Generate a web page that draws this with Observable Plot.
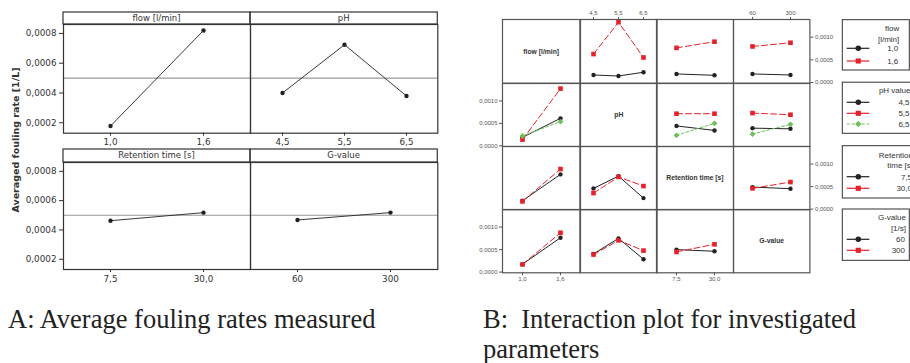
<!DOCTYPE html>
<html><head><meta charset="utf-8">
<script src="https://cdn.jsdelivr.net/npm/d3@7"></script>
<script src="https://cdn.jsdelivr.net/npm/@observablehq/plot@0.6"></script>
<style>
body{margin:0;background:#fff;}
#root{position:relative;width:910px;height:363px;overflow:hidden;background:#fff;}
#root > svg{position:absolute;}
</style></head><body><div id="root"></div>
<script>
// ---------- data ----------
const flowLevels = ["1,0", "1,6"];
const phLevels = ["4,5", "5,5", "6,5"];
const retLevels = ["7,5", "30,0"];
const gLevels = ["60", "300"];
const factorNames = ["flow [l/min]", "pH", "Retention time [s]", "G-value"];
const panelATitles = ["flow [l/min]", "pH", "Retention time [s]", "G-value"];
const legendTitles = [["flow", "[l/min]"], ["pH value"], ["Retention", "time [s]"], ["G-value", "[1/s]"]];

// A: main effects (averaged fouling rate, 1/L)
const mainFlow = [0.000178, 0.00082];
const mainPH = [0.0004, 0.000724, 0.00038];
const mainRet = [0.000463, 0.000518];
const mainG = [0.000468, 0.000518];
const grandMean = 0.0005;
const yTicksA = [0.0002, 0.0004, 0.0006, 0.0008];

// B: interaction means  (rows = levels of grouping factor, columns = levels of x factor)
const flowXpH  = [[0.000166, 0.000143, 0.000227], [0.000627, 0.00133, 0.000552]];
const flowXret = [[0.000189, 0.000159], [0.000764, 0.0009]];
const flowXg   = [[0.000189, 0.000166], [0.000795, 0.000877]];
const phXflow  = [[0.00019, 0.000613], [0.000138, 0.001276], [0.000219, 0.00054]];
const phXret   = [[0.000444, 0.000343], [0.000716, 0.000716], [0.000234, 0.000503]];
const phXg     = [[0.000394, 0.000379], [0.00073, 0.000693], [0.000263, 0.00048]];
const retXflow = [[0.000187, 0.000771], [0.000171, 0.000889]];
const retXpH   = [[0.00046, 0.000733, 0.000244], [0.000356, 0.000715, 0.000511]];
const retXg    = [[0.000489, 0.000453], [0.00046, 0.0006]];
const gXflow   = [[0.000176, 0.000764], [0.00017, 0.000874]];
const gXpH     = [[0.000405, 0.000749, 0.000286], [0.00039, 0.000705, 0.000478]];
const gXret    = [[0.0005, 0.000463], [0.000449, 0.000617]];
const yTicksB = [0, 0.0005, 0.001];

// ---------- setup ----------
const root = document.getElementById("root");
const FA = "'DejaVu Sans', Verdana, sans-serif";
const FB = "'Liberation Sans', Arial, sans-serif";
const fmt = d => d3.format(".4f")(d).replace(".", ",");
const factorLevels = [flowLevels, phLevels, retLevels, gLevels];
const inter = [
  [null, flowXpH, flowXret, flowXg],
  [phXflow, null, phXret, phXg],
  [retXflow, retXpH, null, retXg],
  [gXflow, gXpH, gXret, null]
];
const styles = [
  {color: "#222222", symbol: "circle", dash: null, r: 2.2, d3sym: d3.symbolCircle},
  {color: "#e8202a", symbol: "square", dash: "6,3", r: 2.6, d3sym: d3.symbolSquare},
  {color: "#6cc05a", symbol: "diamond2", dash: "3,2", r: 2.6, d3sym: d3.symbolDiamond2}
];

function place(svg, left, top) {
  svg.style.left = left + "px";
  svg.style.top = top + "px";
  root.append(svg);
}

function header(text, hh) {
  return (index, scales, values, dims) => {
    const g = d3.create("svg:g");
    const x0 = dims.marginLeft, x1 = dims.width - dims.marginRight, y1 = dims.marginTop;
    g.append("rect").attr("x", x0).attr("y", y1 - hh).attr("width", x1 - x0).attr("height", hh)
      .attr("fill", "none").attr("stroke", "#333").attr("stroke-width", 1.2);
    g.append("text").attr("x", (x0 + x1) / 2).attr("y", y1 - hh / 2).attr("dy", "0.35em")
      .attr("text-anchor", "middle").attr("fill", "#333").attr("font-size", 8.5).text(text);
    return g.node();
  };
}

// ---------- Panel A ----------
function panelA(levels, values, label, left, top, w, h, hh, showY) {
  const ml = 60, mr = 4, mt = 14, mb = 22;
  const data = levels.map((l, i) => ({x: l, y: values[i]}));
  const svg = Plot.plot({
    width: ml + w + mr, height: mt + h + mb,
    marginLeft: ml, marginRight: mr, marginTop: mt, marginBottom: mb,
    style: {fontFamily: FA, fontSize: "8.8px", color: "#333", background: "transparent", overflow: "visible"},
    x: {type: "point", domain: levels, padding: 0.5, label: null, tickSize: 3, tickPadding: 3},
    y: {domain: [0.00013, 0.00086], label: null, axis: showY ? "left" : null, ticks: yTicksA, tickFormat: fmt, tickSize: 4, tickPadding: 3},
    marks: [
      Plot.ruleY([grandMean], {stroke: "#999", strokeWidth: 1.2}),
      Plot.line(data, {x: "x", y: "y", stroke: "#222", strokeWidth: 0.9}),
      Plot.dot(data, {x: "x", y: "y", fill: "#222", r: 2.2}),
      Plot.frame({stroke: "#333", strokeWidth: 1.2}),
      header(label, hh)
    ]
  });
  place(svg, left - ml, top - mt);
}
panelA(flowLevels, mainFlow, panelATitles[0], 63, 24.3, 187, 108.7, 12, true);
panelA(phLevels, mainPH, panelATitles[1], 250, 24.3, 187.3, 108.7, 12, false);
panelA(retLevels, mainRet, panelATitles[2], 63, 162, 187, 107, 13, true);
panelA(gLevels, mainG, panelATitles[3], 250, 162, 187.3, 107, 13, false);

// ---------- Panel B ----------
const colX = [502.3, 579.7, 656.3, 733.3, 809.7];
const rowY = [19, 82.7, 145.7, 209, 272.3];
function cellB(r, c) {
  const ml = 32, mr = 32, mt = 14, mb = 14;
  const w = colX[c + 1] - colX[c], h = rowY[r + 1] - rowY[r];
  const marks = [];
  if (r === c) {
    marks.push(Plot.text([factorNames[r]], {text: d => d, frameAnchor: "middle", fontWeight: "bold", fontSize: 6.8, fill: "#333"}));
  } else {
    inter[r][c].forEach((row, gi) => {
      const d = factorLevels[c].map((xl, xi) => ({x: xl, y: row[xi]}));
      const st = styles[gi];
      marks.push(Plot.line(d, {x: "x", y: "y", stroke: st.color, strokeWidth: 1, strokeDasharray: st.dash}));
      marks.push(Plot.dot(d, {x: "x", y: "y", fill: st.color, symbol: st.symbol, r: st.r}));
    });
  }
  marks.push(Plot.frame({stroke: "#555", strokeWidth: 1.2}));
  const xAxis = (r === 0 && c % 2 === 1) ? "top" : (r === 3 && c % 2 === 0) ? "bottom" : null;
  const yAxis = (c === 0 && r % 2 === 1) ? "left" : (c === 3 && r % 2 === 0) ? "right" : null;
  const svg = Plot.plot({
    width: ml + w + mr, height: mt + h + mb,
    marginLeft: ml, marginRight: mr, marginTop: mt, marginBottom: mb,
    style: {fontFamily: FB, fontSize: "6px", color: "#555", background: "transparent", overflow: "visible"},
    x: {type: "point", domain: factorLevels[c], padding: 0.5, label: null, axis: xAxis, tickSize: 3, tickPadding: 1},
    y: {domain: [-0.000015, 0.00139], label: null, axis: yAxis, ticks: yTicksB, tickFormat: fmt, tickSize: 3, tickPadding: 2},
    marks
  });
  place(svg, colX[c] - ml, rowY[r] - mt);
}
for (let r = 0; r < 4; r++) for (let c = 0; c < 4; c++) cellB(r, c);

// ---------- overlay: axis title, legends, captions ----------
const ov = d3.create("svg").attr("width", 910).attr("height", 363)
  .style("left", "0px").style("top", "0px");
ov.append("text").attr("transform", "translate(16,140) rotate(-90)").attr("text-anchor", "middle")
  .attr("dy", "0.35em").attr("font-family", FA).attr("font-weight", "bold").attr("font-size", 9.5)
  .attr("fill", "#333").text("Averaged fouling rate [1/L]");

const legendBoxes = [
  {x: 842.3, y: 19.7, x1: 909.3, y1: 70, titleY: [27.7, 39], entryY: [48.3, 61], right: 898.3},
  {x: 842.3, y: 82.2, x1: 930, y1: 133.3, titleY: [90], entryY: [102.3, 113.3, 124], right: 909.5},
  {x: 842.3, y: 145.7, x1: 930, y1: 198, titleY: [154.7, 165.5], entryY: [176.7, 188.3], right: 912},
  {x: 842.3, y: 209, x1: 909.3, y1: 260.3, titleY: [217.3, 228.3], entryY: [239.3, 250.3], right: 905}
];
legendBoxes.forEach((b, k) => {
  const g = ov.append("g").attr("font-family", FB).attr("font-size", 8).attr("fill", "#333");
  g.append("rect").attr("x", b.x).attr("y", b.y).attr("width", b.x1 - b.x).attr("height", b.y1 - b.y)
    .attr("fill", "none").attr("stroke", "#333").attr("stroke-width", 1);
  legendTitles[k].forEach((t, i) => {
    g.append("text").attr("x", b.right + 1).attr("y", b.titleY[i]).attr("dy", "0.35em")
      .attr("text-anchor", "end").text(t);
  });
  factorLevels[k].forEach((lv, i) => {
    const st = styles[i], yy = b.entryY[i];
    g.append("line").attr("x1", 846.7).attr("x2", 869.3).attr("y1", yy).attr("y2", yy)
      .attr("stroke", st.color).attr("stroke-width", 1.2).attr("stroke-dasharray", i === 2 ? "3,2" : null);
    g.append("path").attr("d", d3.symbol(st.d3sym, i === 0 ? 24 : 26)())
      .attr("transform", `translate(858.3,${yy})`).attr("fill", st.color);
    g.append("text").attr("x", b.right).attr("y", yy).attr("dy", "0.35em").attr("text-anchor", "end").text(lv);
  });
});

const capFont = "Liberation Serif, Times New Roman, Times, serif";
ov.append("text").attr("x", 8).attr("y", 327.7).attr("font-family", capFont).attr("font-size", 26.5)
  .attr("fill", "#222").text("A: Average fouling rates measured");
ov.append("text").attr("x", 483).attr("y", 328).attr("font-family", capFont).attr("font-size", 26.5)
  .attr("fill", "#222").style("white-space", "pre").text("B:  Interaction plot for investigated");
ov.append("text").attr("x", 483).attr("y", 358).attr("font-family", capFont).attr("font-size", 26.5)
  .attr("fill", "#222").text("parameters");
place(ov.node(), 0, 0);
</script></body></html>
